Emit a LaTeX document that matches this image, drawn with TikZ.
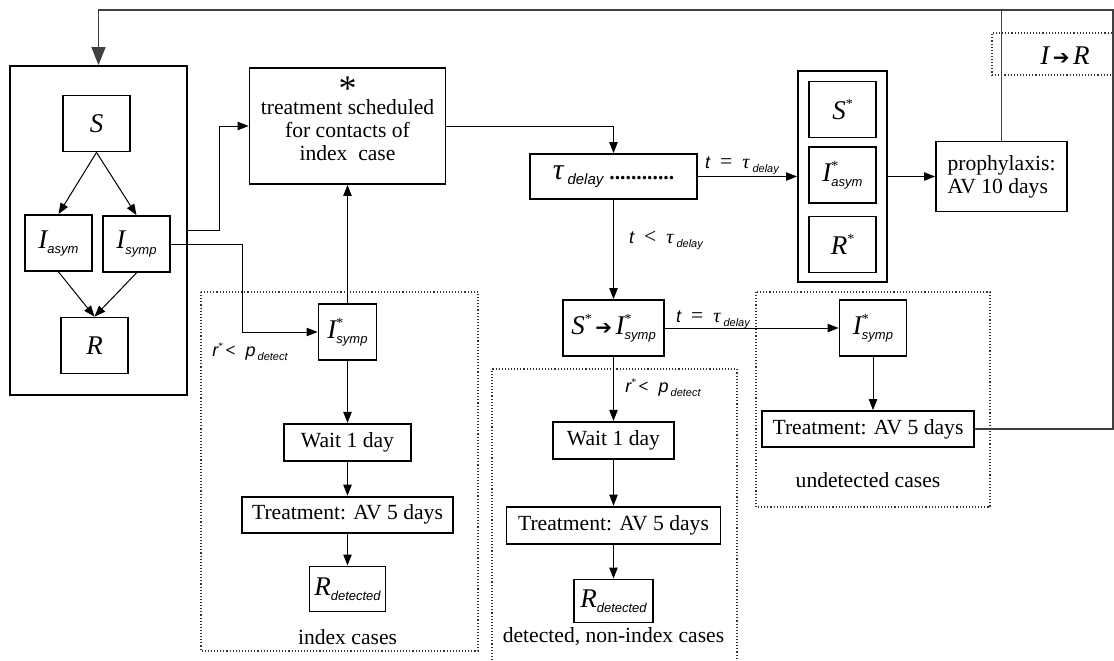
\documentclass[tikz,border=0pt]{standalone}
\usepackage{fontspec}
\setmainfont{Liberation Serif}
\setsansfont{Liberation Sans}
\newfontfamily\arrowfont{DejaVu Sans}
\usetikzlibrary{positioning, arrows.meta}

\newcommand{\bigsym}[1]{{\fontsize{13.5}{16}\selectfont\itshape #1}}
\newcommand{\lowsub}[1]{\raisebox{-2.5pt}{\fontsize{6.5}{8}\selectfont\sffamily\itshape #1}}
\newcommand{\upstar}{\raisebox{5.5pt}{\fontsize{7}{8}\selectfont *}}
\newcommand{\starvar}[2]{\bigsym{#1}\rlap{\upstar}\lowsub{#2}}
\newcommand{\harrow}{{\arrowfont\bfseries\fontsize{10}{10}\selectfont ➔}}
\newcommand{\lbl}[1]{{\fontsize{9}{10}\selectfont\sffamily\itshape #1}}
\newcommand{\lblsub}[1]{\raisebox{-2pt}{\fontsize{5.5}{6}\selectfont\sffamily\itshape #1}}
\newcommand{\tcond}[1]{\lbl{t}\hspace{5pt}#1\hspace{5pt}{\fontsize{10}{10}\selectfont\itshape τ}\hspace{1.5pt}\lblsub{delay}}
\newcommand{\rcond}{\lbl{r}\raisebox{3.5pt}{\fontsize{5}{6}\selectfont *}\hspace{1pt}{\fontsize{9}{10}\selectfont\bfseries <}\hspace{5pt}\lbl{p}\hspace{1pt}\lblsub{detect}}

\begin{document}
\begin{tikzpicture}[
  x=0.5pt, y=-0.5pt,
  font=\fontsize{10.8}{11.5}\selectfont,
  box/.style={rectangle, draw, line width=0.9pt, inner sep=2pt, align=center},
  cell/.style={box, minimum width=33.5pt, minimum height=28pt},
  arr/.style={-{Triangle[length=5.5pt, width=4.2pt]}, line width=0.5pt},
  feedback/.style={line width=0.6pt, black!75},
  group/.style={densely dotted, line width=0.55pt, black!80}
]
  \useasboundingbox (0,0) rectangle (1114,660);

  % population compartments
  \node[box, minimum width=88.5pt, minimum height=164.5pt] (host) at (98.5,230.5) {};
  \node[cell] (S)  at (96.5,123.5) {\bigsym{S}};
  \node[cell] (Ia) at (58.5,243)   {\bigsym{I}\lowsub{asym}};
  \node[cell] (Is) at (136.5,244)  {\bigsym{I}\lowsub{symp}};
  \node[cell] (R)  at (94.5,345.5) {\bigsym{R}};

  \node[box, minimum width=98pt, minimum height=58pt] (sched) at (347.5,126)
    {{\fontsize{18}{12}\selectfont *}\\[-4.5pt]treatment scheduled\\for contacts of\\index\ \ case\rule[-7pt]{0pt}{7pt}};

  \node[box, minimum width=83.5pt, minimum height=22.5pt] (tau) at (613.5,176.5)
    {{\fontsize{15}{16}\selectfont\itshape τ}\hspace{2pt}\raisebox{-2.5pt}{\fontsize{7.5}{8}\selectfont\sffamily\itshape delay}\hspace{3pt}{\bfseries ............}};

  % traced contacts
  \node[box, minimum width=44.5pt, minimum height=105.5pt] (traced) at (842.5,176.5) {};
  \node[cell] (Sc)  at (842.5,109.5) {\bigsym{S}\upstar};
  \node[cell] (Iac) at (842.5,175)   {\starvar{I}{asym}};
  \node[cell] (Rc)  at (842.5,244.5) {\bigsym{R}\upstar};
  \node[box, minimum width=65.5pt, minimum height=35pt, align=left] (proph) at (1001.5,176.5)
    {prophylaxis:\\AV 10 days};

  \node[box, minimum width=50.5pt, minimum height=28pt] (conv) at (613.5,328)
    {\bigsym{S}\upstar\,\harrow\,\starvar{I}{symp}};

  % index cases
  \node[cell, minimum width=29pt] (Ix) at (347.5,332) {\starvar{I}{symp}};
  \node[box, minimum width=63.5pt, minimum height=18.5pt, below=31pt of Ix]    (wait1)  {Wait 1 day};
  \node[box, minimum width=105.5pt, minimum height=18pt, below=17pt of wait1]  (treat1) {Treatment: AV 5 days};
  \node[box, minimum width=38pt, minimum height=22.5pt, below=16pt of treat1]  (rdet1)  {\bigsym{R}\lowsub{detected}};
  \node[below=5pt of rdet1] (idxcap) {index cases};

  % detected, non-index cases
  \node[box, minimum width=60.5pt, minimum height=18.5pt, below=32pt of conv]  (wait2)  {Wait 1 day};
  \node[box, minimum width=107pt, minimum height=18.5pt, below=23pt of wait2]  (treat2) {Treatment: AV 5 days};
  \node[box, minimum width=39.5pt, minimum height=21.5pt, below=17pt of treat2] (rdet2) {\bigsym{R}\lowsub{detected}};
  \node[below=-1.5pt of rdet2] (detcap) {detected, non-index cases};

  % undetected cases
  \node[cell] (Iu) at (873,328) {\starvar{I}{symp}};
  \node[box, minimum width=106pt, minimum height=18pt] (treat3) at (868,429) {Treatment: AV 5 days};
  \node[below=9pt of treat3] (undcap) {undetected cases};

  % groups
  \draw[group] (201,292) rectangle (478,651);
  \draw[group] (492,660) -- (492,369) -- (737,369) -- (737,660);
  \draw[group] (756,292) rectangle (990,507);
  \node[group, draw, minimum width=60.5pt, minimum height=21pt] (irbox) at (1052.5,54) {};
  \node (ir) at (1065,56) {\bigsym{I}\,\harrow\,\bigsym{R}};

  % conditions
  \node (c1) at (250,352) {\rcond};
  \node (c2) at (742,166) {\tcond{=}};
  \node (c3) at (666,240) {\tcond{<}};
  \node (c4) at (713,320) {\tcond{=}};
  \node (c5) at (663,388) {\rcond};

  \draw[arr] (S.south) -- (Ia.north);
  \draw[arr] (S.south) -- (Is.north);
  \draw[arr] (Ia.south) -- (R.north);
  \draw[arr] (Is.south) -- (R.north);
  \draw[arr] (host.east) -- ++(32,0) |- (sched.west);
  \draw[arr] (Is.east) -- ++(72,0) |- (Ix.west);
  \draw[arr] (Ix) -- (sched);
  \draw[arr] (Ix) -- (wait1);
  \draw[arr] (wait1) -- (treat1);
  \draw[arr] (treat1) -- (rdet1);
  \draw[arr] (sched.east) -| (tau.north);
  \draw[arr] (tau) -- (traced);
  \draw[arr] (traced) -- (proph);
  \draw[arr] (tau) -- (conv);
  \draw[arr] (conv) -- (Iu);
  \draw[arr] (conv) -- (wait2);
  \draw[arr] (wait2) -- (treat2);
  \draw[arr] (treat2) -- (rdet2);
  \draw[arr] (Iu.south) -- (Iu.south |- treat3.north);

  % back to the population
  \coordinate (topl) at (98.5,10);
  \coordinate (topr) at (1113,10);
  \draw[feedback] (proph.north) -- (proph.north |- topr);
  \draw[feedback, -{Triangle[length=9pt, width=7pt]}] (treat3.east) -| (topr) -- (topl) -- (host.north);
\end{tikzpicture}
\end{document}
